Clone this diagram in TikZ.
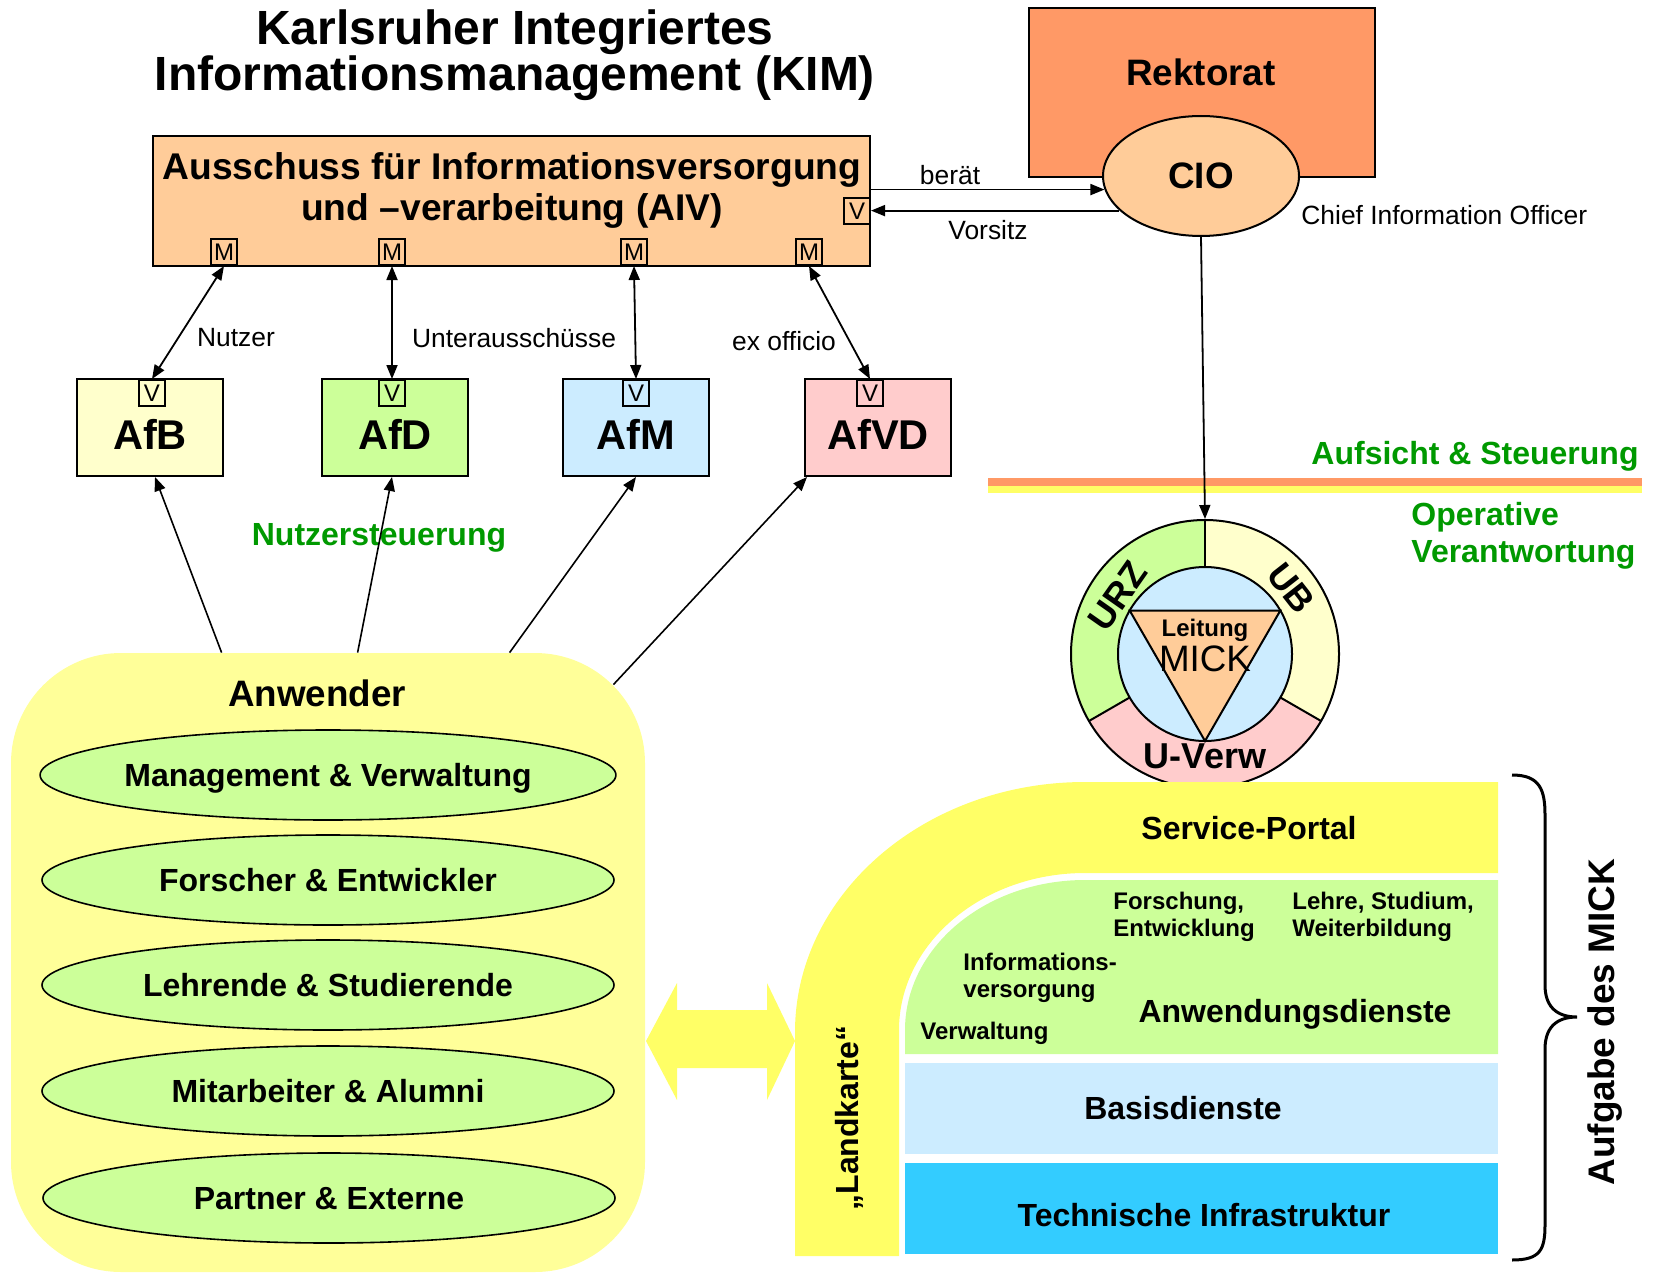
\documentclass[tikz,border=0pt]{standalone}
\usepackage{fontspec}
\setmainfont{Liberation Sans}
\usetikzlibrary{shapes.geometric,arrows.meta,calc}
\definecolor{aivc}{HTML}{FFCC99}
\definecolor{rekc}{HTML}{FF9966}
\definecolor{afbc}{HTML}{FFFFCC}
\definecolor{afdc}{HTML}{CCFF99}
\definecolor{afmc}{HTML}{CCECFF}
\definecolor{afvdc}{HTML}{FFCCCC}
\definecolor{anwc}{HTML}{FFFF99}
\definecolor{yelc}{HTML}{FFFF66}
\definecolor{grtext}{HTML}{009900}
\definecolor{tic}{HTML}{33CCFF}
\newcommand\fsz[2]{\fontsize{#1pt}{#2pt}\selectfont}
\begin{document}
\begin{tikzpicture}[x=0.5pt,y=0.5pt,
  box/.style={draw, line width=1pt, inner sep=0},
  smallbox/.style={draw, line width=0.8pt, minimum width=13pt, minimum height=13pt, inner sep=0, font=\fsz{12}{12}},
  arr/.style={-{Triangle[length=7pt,width=5.5pt]}, line width=0.9pt},
  darr/.style={{Triangle[length=7pt,width=5.5pt]}-{Triangle[length=7pt,width=5.5pt]}, line width=0.9pt},
  afbox/.style={box, minimum width=73pt, minimum height=48.5pt},
  aflabel/.style={font=\bfseries\fsz{20.8}{22}},
  ell/.style={ellipse, draw, line width=0.8pt, fill=afdc, minimum width=286pt, minimum height=45pt, inner sep=0, text height=12pt, text depth=0.5pt, font=\bfseries\fsz{16}{18}},
  lbl/.style={font=\fsz{13.2}{15}},
  glbl/.style={font=\bfseries\fsz{16}{18.5}, text=grtext},
  layer/.style={font=\bfseries\fsz{16}{18}},
  small/.style={font=\bfseries\fsz{12}{13.5}, align=left, anchor=west, inner sep=0},
  ringlbl/.style={font=\bfseries\fsz{18}{18}, inner sep=0}
]
\useasboundingbox (0,0) rectangle (1658,-1273);

% Title
\node[font=\bfseries\fsz{24}{23.3}, align=center] (title) at (515,-55) {Karlsruher Integriertes\\Informationsmanagement (KIM)};

% AIV
\node[box, fill=aivc, minimum width=358.5pt, minimum height=65pt] (aiv) at (511.5,-201) {};
\node[font=\bfseries\fsz{18.6}{20.5}, align=center] (aivt) at (512,-190) {Ausschuss für Informationsversorgung\\und –verarbeitung (AIV)};
\node[smallbox, anchor=east] (aivv) at (aiv.east |- 0,-211) {V};
\node[smallbox, anchor=south] (m1) at (224,-266) {M};
\node[smallbox, anchor=south] (m2) at (392,-266) {M};
\node[smallbox, anchor=south] (m3) at (634,-266) {M};
\node[smallbox, anchor=south] (m4) at (809,-266) {M};

% Rektorat & CIO
\node[box, fill=rekc, minimum width=173pt, minimum height=84.5pt] (rek) at (1202,-92.5) {};
\node[font=\bfseries\fsz{18.4}{20}] (rekt) at (1201,-72) {Rektorat};
\node[ellipse, draw, line width=1pt, fill=aivc, minimum width=98pt, minimum height=60pt, inner sep=0, font=\bfseries\fsz{18.4}{20}] (cio) at (1201,-176) {CIO};
\node[lbl, anchor=west, inner sep=0] (ciot) at (1301,-215) {Chief Information Officer};

\draw[arr] (aiv.east |- cio.188) -- (cio.188);
\node[lbl] (berat) at (950,-175) {berät};
\draw[arr] (cio.203) -- (aivv.east |- cio.203);
\node[lbl] (vorsitz) at (988,-230) {Vorsitz};

% Ausschuesse
\node[afbox, fill=afbc] (afb) at (150,-427.5) {};
\node[afbox, fill=afdc] (afd) at (395,-427.5) {};
\node[afbox, fill=afmc] (afm) at (636,-427.5) {};
\node[afbox, fill=afvdc] (afvd) at (878,-427.5) {};
\node[aflabel] (afbt) at (150,-434) {AfB};
\node[aflabel] (afdt) at (395,-434) {AfD};
\node[aflabel] (afmt) at (636,-434) {AfM};
\node[aflabel] (afvdt) at (878,-434) {AfVD};
\node[smallbox, anchor=north] (v1) at (152,-379) {V};
\node[smallbox, anchor=north] (v2) at (392,-379) {V};
\node[smallbox, anchor=north] (v3) at (636,-379) {V};
\node[smallbox, anchor=north] (v4) at (870,-379) {V};
\draw[darr] (m1.south) -- (v1.north);
\draw[darr] (m2.south) -- (v2.north);
\draw[darr] (m3.south) -- (v3.north);
\draw[darr] (m4.south) -- (v4.north);
\node[lbl] (nutzer) at (236,-338) {Nutzer};
\node[lbl] (unter) at (514,-338) {Unterausschüsse};
\node[lbl] (exoff) at (784,-341) {ex officio};

\node[glbl] (nst) at (379,-538) {Nutzersteuerung};

% Anwender
\node[fill=anwc, rounded corners=55pt, minimum width=317pt, minimum height=309.5pt, inner sep=0] (anw) at (328,-962.5) {};
\node[font=\bfseries\fsz{18.4}{20}] (anwt) at (317,-693) {Anwender};
\node[ell] (e1) at (328,-775) {Management \& Verwaltung};
\node[ell] (e2) at (328,-880) {Forscher \& Entwickler};
\node[ell] (e3) at (328,-985) {Lehrende \& Studierende};
\node[ell] (e4) at (328,-1091) {Mitarbeiter \& Alumni};
\node[ell] (e5) at (329,-1198) {Partner \& Externe};

\draw[arr, line width=0.8pt] ([shift={(211,0)}]anw.north west) -- ([shift={(5,0)}]afb.south);
\draw[arr, line width=0.8pt] ([shift={(347,0)}]anw.north west) -- ([shift={(-3,0)}]afd.south);
\draw[arr, line width=0.8pt] ([shift={(499,0)}]anw.north west) -- (afm.south);
\draw[arr, line width=0.8pt] ([shift={(-32,-32)}]anw.north east) -- ([shift={(3,0)}]afvd.south west);

% bars
\fill[rekc] (988,-478) rectangle (1642,-486);
\fill[yelc] (988,-486) rectangle (1642,-493);
\node[glbl, anchor=east, inner sep=0] (aufs) at (1639,-456) {Aufsicht \& Steuerung};
\node[glbl, anchor=west, align=left, inner sep=0] (oper) at (1411,-536) {Operative\\Verantwortung};

% ring
\coordinate (rc) at (1205,-654);
\fill[afdc] (rc) -- ++(90:134) arc[start angle=90,end angle=210,radius=134] -- cycle;
\fill[afbc] (rc) -- ++(-30:134) arc[start angle=-30,end angle=90,radius=134] -- cycle;
\fill[afvdc] (rc) -- ++(210:134) arc[start angle=210,end angle=330,radius=134] -- cycle;
\foreach \a in {90,210,330} \draw[line width=1pt] ([shift={(\a:87)}]rc) -- ([shift={(\a:134)}]rc);
\node[circle, draw, line width=1pt, minimum size=134pt, inner sep=0] (ring) at (rc) {};
\node[circle, draw, line width=1pt, fill=afmc, minimum size=87pt, inner sep=0] (inner) at (rc) {};
\draw[line width=1pt, fill=aivc] ([shift={(150:87)}]rc) -- ([shift={(30:87)}]rc) -- ([shift={(270:87)}]rc) -- cycle;
\node[font=\bfseries\fsz{12}{13}] (leit) at (1205,-630) {Leitung};
\node[font=\fsz{18.4}{20}] (mick) at (1205,-659) {MICK};
\node[ringlbl, rotate=55] (urz) at (1118,-596) {URZ};
\node[ringlbl, rotate=-52] (ub) at (1291,-588) {UB};
\node[ringlbl] (uverw) at (1205,-756) {U-Verw};
\draw[arr] (cio.south) -- (ring.north);

% Landkarte arch
\fill[yelc] (795,-1256) -- (795,-1032) arc[start angle=180, end angle=90, x radius=290, y radius=250] -- (1498,-782) -- (1498,-873) -- (1085,-873) arc[start angle=90, end angle=180, x radius=186, y radius=157] -- (899,-1256) -- cycle;
\fill[afdc] (905,-1054) -- (905,-1030) arc[start angle=180,end angle=90,x radius=180,y radius=150] -- (1498,-880) -- (1498,-1054) -- cycle;
\node[fill=afmc, minimum width=296.5pt, minimum height=45.5pt, inner sep=0] (basis) at (1201.5,-1108.5) {};
\node[fill=tic, minimum width=296.5pt, minimum height=45.5pt, inner sep=0] (techn) at (1201.5,-1208.5) {};
\node[layer] (spt) at (1249,-828) {Service-Portal};
\node[layer] (anwd) at (1295,-1014) {Anwendungsdienste};
\node[layer] (basist) at (1183,-1108) {Basisdienste};
\node[layer] (technt) at (1204,-1215) {Technische Infrastruktur};
\node[small] (fe) at (1113,-916.5) {Forschung,\\Entwicklung};
\node[small] (lsw) at (1292,-916.5) {Lehre, Studium,\\Weiterbildung};
\node[small] (iv) at (963,-978) {Informations-\\versorgung};
\node[small] (verw) at (920,-1033) {Verwaltung};
\node[rotate=90, font=\bfseries\fsz{16}{18}] (lk) at (849,-1118) {„Landkarte“};

% double arrow
\fill[yelc] (646,-1041) -- (677,-983) -- (677,-1010) -- (767,-1010) -- (767,-983) -- (795,-1041) -- (767,-1100) -- (767,-1068) -- (677,-1068) -- (677,-1100) -- cycle;

% brace
\draw[line width=1.5pt] (1512,-775) .. controls (1540,-775) and (1545,-790) .. (1545,-815) -- (1545,-985) .. controls (1545,-1005) and (1555,-1017) .. (1577,-1017) .. controls (1555,-1017) and (1545,-1029) .. (1545,-1049) -- (1545,-1225) .. controls (1545,-1250) and (1540,-1260) .. (1512,-1260);
\node[rotate=90, font=\bfseries\fsz{18.5}{20}] (aufg) at (1605,-1022) {Aufgabe des MICK};
\end{tikzpicture}
\end{document}
